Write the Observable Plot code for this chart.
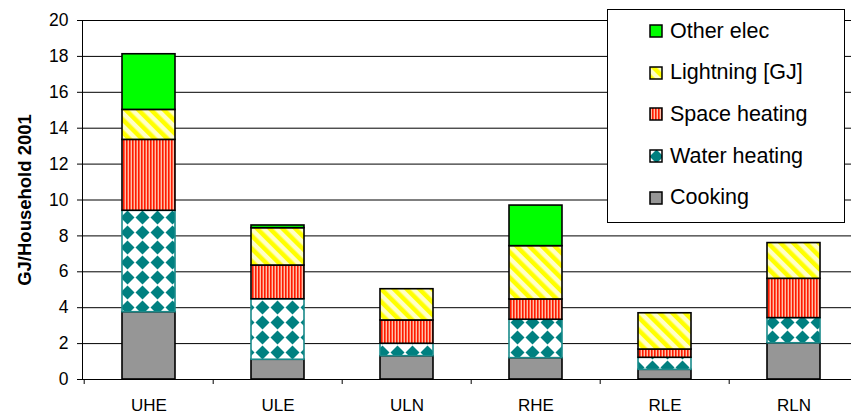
<!DOCTYPE html>
<html><head><meta charset="utf-8">
<script src="https://cdn.jsdelivr.net/npm/d3@7"></script>
<script src="https://cdn.jsdelivr.net/npm/@observablehq/plot@0.6"></script>
<style>
body{margin:0;background:#fff;font-family:"Liberation Sans",Arial,sans-serif;}
#wrap{position:relative;width:851px;height:415px;overflow:hidden;}
#legend{position:absolute;left:607px;top:9px;width:238px;height:214px;border:1px solid #000;background:#fff;box-sizing:border-box;}
.item{position:absolute;left:41px;height:24px;display:flex;align-items:center;font-size:21.5px;color:#000;white-space:nowrap;}
.item svg{margin-right:7px;flex:none;}
</style></head><body>
<svg width="0" height="0" style="position:absolute">
<defs>
<pattern id="pLight" patternUnits="userSpaceOnUse" width="9" height="9" patternTransform="rotate(-45)">
  <rect width="9" height="9" fill="#FFFFC8"/><rect width="4.5" height="9" fill="#FFFF00"/>
</pattern>
<pattern id="pSpace" patternUnits="userSpaceOnUse" width="3" height="3">
  <rect width="3" height="3" fill="#FFC0A8"/><rect width="1.6" height="3" fill="#FF1A00"/>
</pattern>
<pattern id="pWater" patternUnits="userSpaceOnUse" width="15" height="15">
  <rect width="15" height="15" fill="#ffffff"/><path d="M7.5 0.5 L14.5 7.5 L7.5 14.5 L0.5 7.5Z" fill="#008080"/>
</pattern>
</defs></svg>
<div id="wrap"><div id="chart"></div><div id="legend"></div></div>
<script>
const categories = ["UHE", "ULE", "ULN", "RHE", "RLE", "RLN"];
const series = ["Cooking", "Water heating", "Space heating", "Lightning [GJ]", "Other elec"];
const cooking      = [3.75, 1.10, 1.30, 1.19, 0.54, 2.02];
const waterHeating = [5.65, 3.37, 0.69, 2.14, 0.67, 1.40];
const spaceHeating = [3.95, 1.88, 1.30, 1.13, 0.46, 2.19];
const lighting     = [1.67, 2.08, 1.74, 2.97, 2.02, 1.99];
const otherElec    = [3.10, 0.15, 0.00, 2.26, 0.00, 0.00];
const yTicks = [0, 2, 4, 6, 8, 10, 12, 14, 16, 18, 20];
const yLabel = "GJ/Household 2001";

const fills = ["#969696", "url(#pWater)", "url(#pSpace)", "url(#pLight)", "#00FF00"];
const values = [cooking, waterHeating, spaceHeating, lighting, otherElec];

const rows = [];
series.forEach((s, si) => categories.forEach((c, ci) => {
  rows.push({category: c, series: s, value: values[si][ci]});
}));

const chart = Plot.plot({
  width: 851,
  height: 415,
  marginTop: 20,
  marginBottom: 36,
  marginLeft: 82,
  marginRight: 0,
  style: {fontFamily: "'Liberation Sans', Arial, sans-serif", background: "#fff", color: "#000"},
  x: {domain: categories, range: [82, 860], paddingInner: 0.59, paddingOuter: 0.295},
  y: {domain: [0, 20]},
  color: {type: "ordinal", domain: series, range: fills},
  marks: [
    Plot.gridY(yTicks, {stroke: "#000", strokeOpacity: 1}),
    Plot.barY(rows.filter(d => d.value > 0), Plot.stackY({order: series}, {
      x: "category", y: "value", z: "series", fill: "series",
      stroke: d => d.series === "Water heating" ? "#1a8a8a" : "#000",
      strokeWidth: 1.6
    })),
    Plot.ruleY([0], {stroke: "#000"}),
    Plot.frame({anchor: "left", stroke: "#000"}),
    Plot.axisY(yTicks, {tickSize: 5, tickPadding: 9, fontSize: 17.5, label: null}),
    Plot.text([yLabel], {frameAnchor: "left", textAnchor: "middle", rotate: -90, dx: -57, fontSize: 18.5, fontWeight: "bold"}),
    Plot.axisX({tickSize: 5, text: null, dx: -64.8, label: null}),
    Plot.axisX({tickSize: 0, tickPadding: 19, fontSize: 17, label: null})
  ]
});
document.getElementById("chart").appendChild(chart);

const legend = document.getElementById("legend");
series.slice().reverse().forEach((s, i) => {
  const fill = fills[series.indexOf(s)];
  const item = document.createElement("div");
  item.className = "item";
  item.style.top = (9 + i * 41.7) + "px";
  item.innerHTML = `<svg width="14" height="14"><rect x="1" y="1" width="12" height="12" fill="${fill}" stroke="#000" stroke-width="1.5"/></svg><span>${s}</span>`;
  legend.appendChild(item);
});
</script>
</body></html>
